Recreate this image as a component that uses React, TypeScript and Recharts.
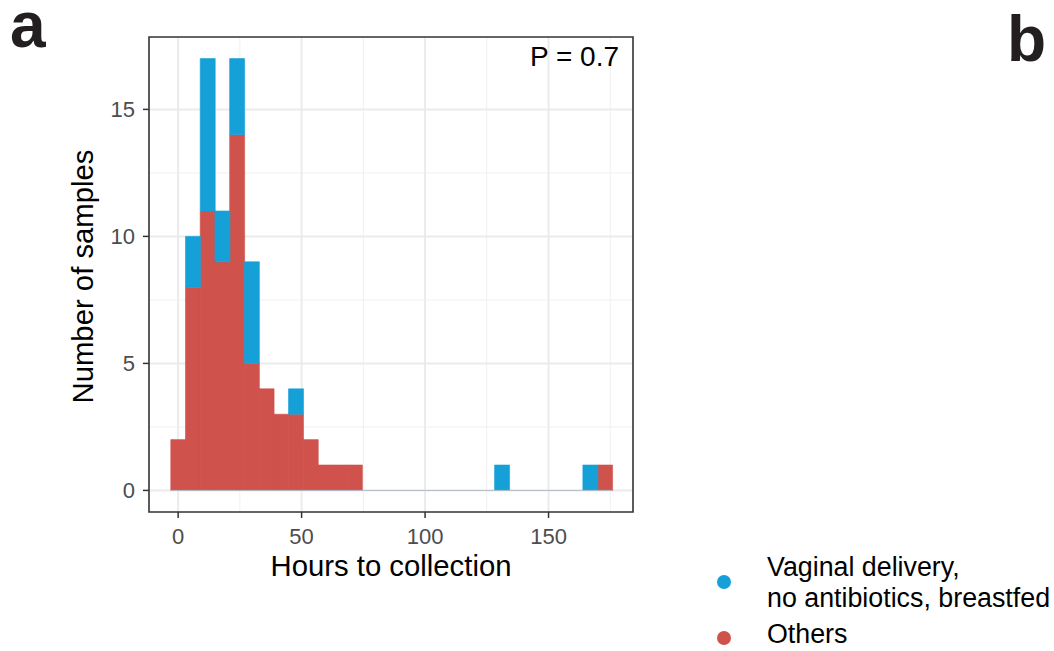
import React from 'react';
import {
  BarChart,
  Bar,
  XAxis,
  YAxis,
  CartesianGrid,
  ReferenceArea,
  ReferenceLine,
} from 'recharts';

// Histogram bins (hours to collection), bin centres and per-group counts
const binCenters = [
  0, 5.96, 11.92, 17.88, 23.84, 29.8, 35.76, 41.72, 47.68, 53.64,
  59.6, 65.56, 71.52, 77.48, 83.44, 89.4, 95.36, 101.32, 107.28, 113.24,
  119.2, 125.16, 131.12, 137.08, 143.04, 149, 154.96, 160.92, 166.88, 172.84,
];
const binWidth = 5.96;
const othersCounts = [
  2, 8, 11, 9, 14, 5, 4, 3, 3, 2,
  1, 1, 1, 0, 0, 0, 0, 0, 0, 0,
  0, 0, 0, 0, 0, 0, 0, 0, 0, 1,
];
const vaginalCounts = [
  0, 2, 6, 2, 3, 4, 0, 0, 1, 0,
  0, 0, 0, 0, 0, 0, 0, 0, 0, 0,
  0, 0, 1, 0, 0, 0, 0, 0, 1, 0,
];

const xTicks = [0, 50, 100, 150];
const xMinorTicks = [25, 75, 125, 175];
const yTicks = [0, 5, 10, 15];
const yMinorTicks = [2.5, 7.5, 12.5];
const xDomain: [number, number] = [-11.8, 184.2];
const yDomain: [number, number] = [-0.85, 17.85];

const BLUE = '#16A0D8';
const RED = '#CF534C';

const legendItems = [
  { lines: ['Vaginal delivery,', 'no antibiotics, breastfed'], color: BLUE },
  { lines: ['Others'], color: RED },
];
const pLabel = 'P = 0.7';

const data = binCenters.map((h, i) => ({
  hours: h,
  others: othersCounts[i],
  vaginal: vaginalCounts[i],
}));

const FONT = '"Liberation Sans", Arial, Helvetica, sans-serif';

const XTitle = (props: any) => {
  const vb = props.viewBox || {};
  return (
    <text
      x={vb.x + vb.width / 2}
      y={vb.y + 64}
      textAnchor="middle"
      fontFamily={FONT}
      fontSize={29.3}
      fill="#000"
    >
      Hours to collection
    </text>
  );
};

const YTitle = (props: any) => {
  const vb = props.viewBox || {};
  const x = vb.x + 4;
  const cy = vb.y + vb.height / 2 + 2;
  return (
    <text
      x={x}
      y={cy}
      transform={`rotate(-90, ${x}, ${cy})`}
      textAnchor="middle"
      fontFamily={FONT}
      fontSize={29.3}
      fill="#000"
    >
      Number of samples
    </text>
  );
};

export default function App() {
  const zeroStart = binCenters[0] - binWidth / 2;
  const zeroEnd = binCenters[binCenters.length - 1] + binWidth / 2;
  return (
    <div style={{ position: 'absolute', left: 0, top: 0, width: 1054, height: 651, background: '#fff' }}>
      <BarChart
        width={1054}
        height={651}
        data={data}
        margin={{ top: 37, right: 421, left: 89, bottom: 79 }}
        barCategoryGap={0}
        barGap={0}
      >
        <CartesianGrid
          stroke="#f0f0f0"
          strokeWidth={1}
          horizontalValues={yMinorTicks}
          verticalValues={xMinorTicks}
        />
        <CartesianGrid
          stroke="#ebebeb"
          strokeWidth={2}
          horizontalValues={yTicks}
          verticalValues={xTicks}
        />
        <XAxis
          type="number"
          dataKey="hours"
          domain={xDomain}
          ticks={xTicks}
          allowDataOverflow
          axisLine={false}
          tickSize={6}
          tickMargin={10}
          tickLine={{ stroke: '#333', strokeWidth: 1.5 }}
          tick={{ fill: '#4d4d4d', fontSize: 22, fontFamily: FONT }}
          height={60}
          label={{ value: 'Hours to collection', content: XTitle }}
        />
        <YAxis
          type="number"
          domain={yDomain}
          ticks={yTicks}
          allowDataOverflow
          axisLine={false}
          tickSize={6}
          tickMargin={8}
          tickLine={{ stroke: '#333', strokeWidth: 1.5 }}
          tick={{ fill: '#4d4d4d', fontSize: 22, fontFamily: FONT }}
          width={60}
          label={{ value: 'Number of samples', content: YTitle }}
        />
        <ReferenceLine
          segment={[
            { x: zeroStart, y: 0 },
            { x: zeroEnd, y: 0 },
          ]}
          stroke="#b4bec7"
          strokeWidth={1}
        />
        <Bar
          dataKey="others"
          stackId="h"
          fill={RED}
          stroke={RED}
          strokeWidth={0.6}
          isAnimationActive={false}
        />
        <Bar
          dataKey="vaginal"
          stackId="h"
          fill={BLUE}
          stroke={BLUE}
          strokeWidth={0.6}
          isAnimationActive={false}
        />
        <ReferenceArea
          x1={xDomain[0]}
          x2={xDomain[1]}
          y1={yDomain[0]}
          y2={yDomain[1]}
          fill="none"
          fillOpacity={0}
          stroke="#333"
          strokeWidth={1.6}
          ifOverflow="visible"
        />
      </BarChart>
      <svg
        width={1054}
        height={651}
        style={{ position: 'absolute', left: 0, top: 0, pointerEvents: 'none' }}
      >
        <text x={10} y={47} fontFamily={FONT} fontWeight="bold" fontSize={64} fill="#231f20">
          a
        </text>
        <text x={1007} y={61} fontFamily={FONT} fontWeight="bold" fontSize={64} fill="#231f20">
          b
        </text>
        <text x={619} y={66} textAnchor="end" fontFamily={FONT} fontSize={28} fill="#000">
          {pLabel}
        </text>
        {legendItems.map((item, i) => {
          const top = i === 0 ? 576 : 643;
          const dotY = i === 0 ? 582 : 638;
          return (
            <g key={i}>
              <circle cx={724} cy={dotY} r={7} fill={item.color} />
              {item.lines.map((ln, j) => (
                <text
                  key={j}
                  x={767}
                  y={top + j * 31}
                  fontFamily={FONT}
                  fontSize={26.8}
                  fill="#000"
                >
                  {ln}
                </text>
              ))}
            </g>
          );
        })}
      </svg>
    </div>
  );
}
